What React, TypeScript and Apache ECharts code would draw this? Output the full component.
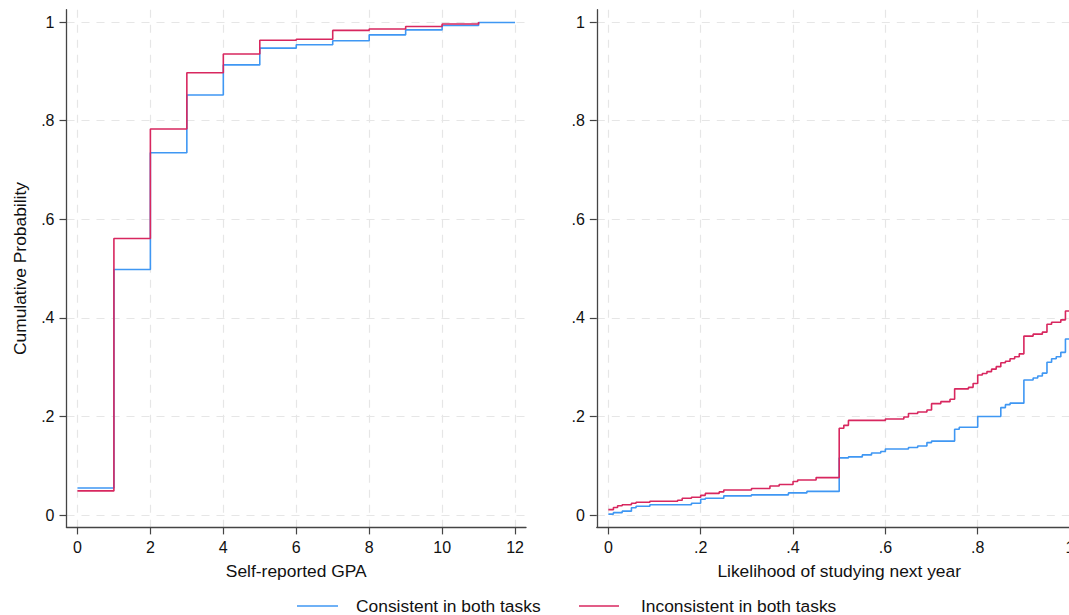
import React, { useEffect, useRef } from "react";
import * as echarts from "echarts";

const BLUE = "#3f97f3";
const RED = "#d8275f";

const gpaTicks = [0, 2, 4, 6, 8, 10, 12];
const probTicks = [0, 0.2, 0.4, 0.6, 0.8, 1];
const likeTicks = [0, 0.2, 0.4, 0.6, 0.8, 1];

// Left panel: ECDF of self-reported GPA
const gpaConsistent: [number, number][] = [
  [0, 0.055], [1, 0.498], [2, 0.735], [3, 0.852], [4, 0.913], [5, 0.947],
  [6, 0.954], [7, 0.962], [8, 0.974], [9, 0.984], [10, 0.993], [11, 0.999], [12, 1.0],
];
const gpaInconsistent: [number, number][] = [
  [0, 0.049], [1, 0.561], [2, 0.783], [3, 0.897], [4, 0.935], [5, 0.963],
  [6, 0.965], [7, 0.983], [8, 0.986], [9, 0.991], [10, 0.996], [11, 1.0],
];

// Right panel: ECDF of likelihood of studying next year
const likeConsistent: [number, number][] = [
  [0, 0.002], [0.011, 0.005], [0.03, 0.008], [0.05, 0.015], [0.06, 0.018], [0.09, 0.021],
  [0.18, 0.024], [0.2, 0.032], [0.21, 0.034], [0.25, 0.039], [0.31, 0.041], [0.39, 0.045],
  [0.43, 0.048], [0.5, 0.116], [0.52, 0.118], [0.55, 0.122], [0.57, 0.126], [0.59, 0.129],
  [0.6, 0.134], [0.65, 0.137], [0.67, 0.14], [0.69, 0.147], [0.7, 0.15], [0.75, 0.174],
  [0.76, 0.178], [0.8, 0.2], [0.85, 0.218], [0.86, 0.224], [0.87, 0.227], [0.9, 0.274],
  [0.92, 0.278], [0.93, 0.282], [0.94, 0.288], [0.95, 0.31], [0.96, 0.317], [0.97, 0.321],
  [0.98, 0.33], [0.99, 0.357], [1.0, 1.0],
];
const likeInconsistent: [number, number][] = [
  [0, 0.011], [0.011, 0.0155], [0.02, 0.019], [0.03, 0.021], [0.05, 0.024], [0.06, 0.026],
  [0.09, 0.028], [0.15, 0.03], [0.16, 0.034], [0.18, 0.036], [0.2, 0.04], [0.21, 0.044],
  [0.24, 0.047], [0.25, 0.051], [0.31, 0.054], [0.35, 0.059], [0.37, 0.062], [0.4, 0.068],
  [0.41, 0.071], [0.45, 0.076], [0.5, 0.176], [0.51, 0.182], [0.52, 0.192], [0.6, 0.195],
  [0.64, 0.199], [0.65, 0.206], [0.67, 0.209], [0.69, 0.213], [0.7, 0.226], [0.72, 0.23],
  [0.74, 0.235], [0.75, 0.256], [0.78, 0.259], [0.79, 0.267], [0.8, 0.284], [0.81, 0.287],
  [0.82, 0.291], [0.83, 0.296], [0.84, 0.301], [0.85, 0.309], [0.86, 0.312], [0.87, 0.317],
  [0.88, 0.321], [0.89, 0.327], [0.9, 0.363], [0.92, 0.367], [0.94, 0.371], [0.95, 0.387],
  [0.96, 0.391], [0.98, 0.396], [0.99, 0.414], [1.0, 1.0],
];

const legendLabels = ["Consistent in both tasks", "Inconsistent in both tasks"];

const FONT = "'Liberation Sans', Arial, sans-serif";
const AXIS_COLOR = "#444";
const GRID_COLOR = "#e6e6e6";

const fracFmt = (v: number) => {
  const r = Number(v.toFixed(2));
  if (r === 0) return "0";
  if (r === 1) return "1";
  return String(r).replace(/^0/, "");
};

const makeAxis = (min: number, max: number, ticks: number[], fmt: (v: number) => string, extra: any) => ({
  type: "value",
  min,
  max,
  axisLine: { show: true, onZero: false, lineStyle: { color: AXIS_COLOR, width: 1.3 } },
  axisTick: { show: true, length: 7, customValues: ticks, lineStyle: { color: AXIS_COLOR, width: 1.2 } },
  axisLabel: {
    customValues: ticks,
    formatter: (v: number) => fmt(v),
    color: "#111",
    fontSize: 16,
    fontFamily: FONT,
    margin: 12,
    showMinLabel: true,
    showMaxLabel: true,
    hideOverlap: false,
  },
  splitLine: { show: true, lineStyle: { color: GRID_COLOR, width: 1.2, type: [8, 7] } },
  ...extra,
});

export default function App() {
  const ref = useRef<HTMLDivElement>(null);
  useEffect(() => {
    if (!ref.current) return;
    const chart = echarts.init(ref.current, undefined, { renderer: "svg" });
    const nameStyle = { color: "#111", fontSize: 17.4, fontFamily: FONT };
    const option: any = {
      animation: false,
      backgroundColor: "#fff",
      grid: [
        { left: 66.5, top: 9.7, width: 459.5, height: 517.7, outerBoundsMode: "none", containLabel: false },
        { left: 596.8, top: 9.7, width: 484.8, height: 517.7, outerBoundsMode: "none", containLabel: false },
      ],
      xAxis: [
        makeAxis(-0.3, 12.3, gpaTicks, (v) => String(v), {
          gridIndex: 0,
          name: "Self-reported GPA",
          nameLocation: "middle",
          nameGap: 35,
          nameTextStyle: nameStyle,
        }),
        makeAxis(-0.025, 1.025, likeTicks, fracFmt, {
          gridIndex: 1,
          name: "Likelihood of studying next year",
          nameLocation: "middle",
          nameGap: 35,
          nameTextStyle: nameStyle,
        }),
      ],
      yAxis: [
        makeAxis(-0.025, 1.025, probTicks, fracFmt, {
          gridIndex: 0,
          name: "Cumulative Probability",
          nameLocation: "middle",
          nameGap: 38,
          nameTextStyle: nameStyle,
        }),
        makeAxis(-0.025, 1.025, probTicks, fracFmt, { gridIndex: 1 }),
      ],
      series: [
        {
          name: legendLabels[0], type: "line", xAxisIndex: 0, yAxisIndex: 0, step: "end",
          data: gpaConsistent, showSymbol: false, lineStyle: { color: BLUE, width: 1.6 }, itemStyle: { color: BLUE }, clip: true,
        },
        {
          name: legendLabels[1], type: "line", xAxisIndex: 0, yAxisIndex: 0, step: "end",
          data: gpaInconsistent, showSymbol: false, lineStyle: { color: RED, width: 1.6 }, itemStyle: { color: RED }, clip: true,
        },
        {
          name: legendLabels[0], type: "line", xAxisIndex: 1, yAxisIndex: 1, step: "end",
          data: likeConsistent, showSymbol: false, lineStyle: { color: BLUE, width: 1.6 }, itemStyle: { color: BLUE }, clip: true,
        },
        {
          name: legendLabels[1], type: "line", xAxisIndex: 1, yAxisIndex: 1, step: "end",
          data: likeInconsistent, showSymbol: false, lineStyle: { color: RED, width: 1.6 }, itemStyle: { color: RED }, clip: true,
        },
      ],
      graphic: [
        { type: "line", shape: { x1: 297, y1: 606, x2: 338, y2: 606 }, style: { stroke: BLUE, lineWidth: 1.6 } },
        {
          type: "text", x: 356, y: 606,
          style: { text: legendLabels[0], fill: "#111", font: `17.4px ${FONT}`, verticalAlign: "middle" },
        },
        { type: "line", shape: { x1: 579, y1: 606, x2: 619, y2: 606 }, style: { stroke: RED, lineWidth: 1.6 } },
        {
          type: "text", x: 641, y: 606,
          style: { text: legendLabels[1], fill: "#111", font: `17.4px ${FONT}`, verticalAlign: "middle" },
        },
      ],
    };
    chart.setOption(option);
    return () => chart.dispose();
  }, []);
  return (
    <div
      ref={ref}
      style={{ position: "absolute", left: 0, top: 0, width: 1069, height: 615, overflow: "hidden" }}
    />
  );
}
